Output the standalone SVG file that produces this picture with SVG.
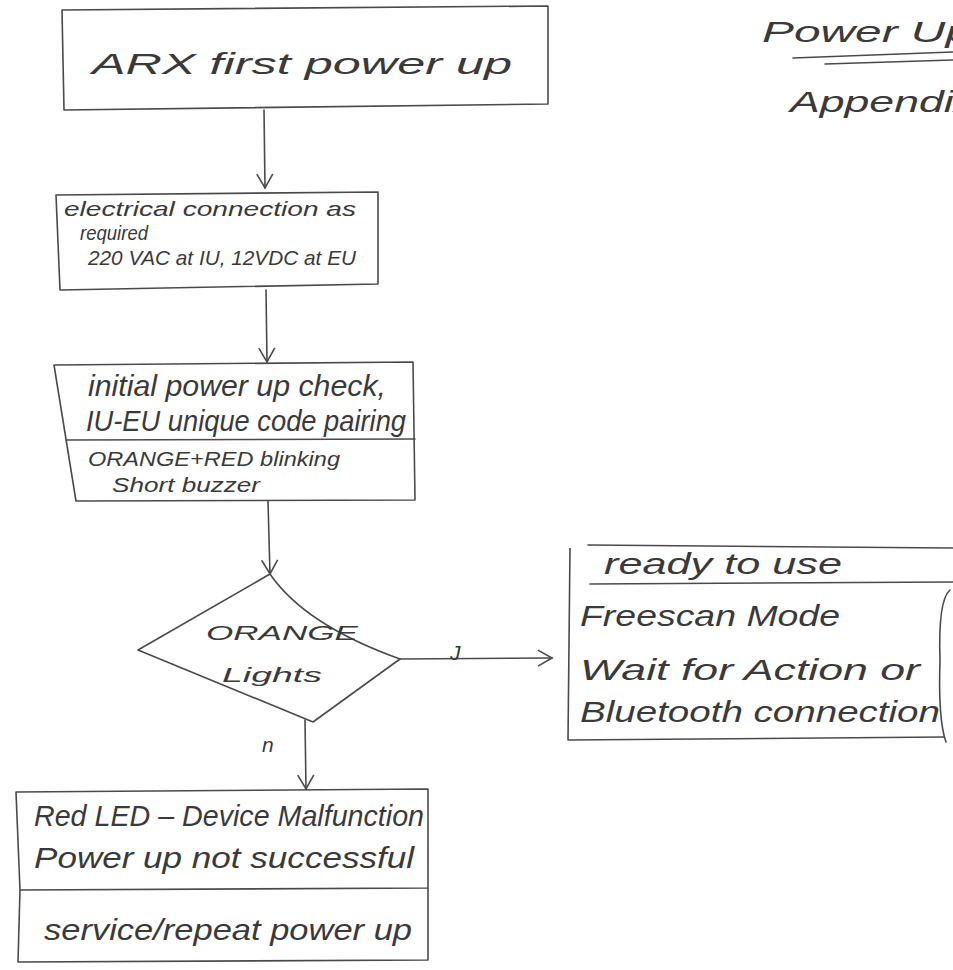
<svg xmlns="http://www.w3.org/2000/svg" width="953" height="970" viewBox="0 0 953 970">
<style>
.bx{fill:none;stroke:#4a4a4a;stroke-width:1.6;stroke-linejoin:round}
.ln{fill:none;stroke:#4a4a4a;stroke-width:1.6;stroke-linecap:round}
text{font-family:"Liberation Sans","DejaVu Sans",sans-serif;font-style:italic;fill:#3a3a3a}
.t{font-size:30px}
.s{font-size:21px}
</style>
<defs>
<marker id="ah" viewBox="0 0 20 20" refX="18" refY="10" markerWidth="20" markerHeight="20" markerUnits="userSpaceOnUse" orient="auto">
<path d="M4,2 L18,10 L4,18" fill="none" stroke="#4a4a4a" stroke-width="1.6"/>
</marker>
</defs>
<rect width="953" height="970" fill="#fff"/>
<g id="title">
<text x="762" y="42" class="t" font-size="34" textLength="210" lengthAdjust="spacingAndGlyphs">Power Up</text>
<path class="ln" d="M793,58 L953,52 M825,64 L953,60"/>
<text x="790" y="112" class="t" font-size="34" textLength="186" lengthAdjust="spacingAndGlyphs">Appendix</text>
</g>
<g id="n1">
<path class="bx" d="M62,10 L548,6 L548,104 L64,110 Z"/>
<text x="92" y="74" class="t" font-size="36" textLength="420" lengthAdjust="spacingAndGlyphs">ARX first power up</text>
</g>
<g id="n2">
<path class="bx" d="M56,195 L378,192 L378,284 L60,290 Z"/>
<text x="64" y="216" class="s" textLength="292" lengthAdjust="spacingAndGlyphs">electrical connection as</text>
<text x="80" y="240" class="s" textLength="68" lengthAdjust="spacingAndGlyphs">required</text>
<text x="88" y="265" class="s" textLength="268" lengthAdjust="spacingAndGlyphs">220 VAC at IU, 12VDC at EU</text>
</g>
<g id="n3">
<path class="bx" d="M54,365 L413,362 L415,500 L76,501 Z"/>
<path class="ln" d="M66,440 L415,439"/>
<text x="88" y="396" class="t" font-size="28" textLength="298" lengthAdjust="spacingAndGlyphs">initial power up check,</text>
<text x="86" y="431" class="t" font-size="28" textLength="320" lengthAdjust="spacingAndGlyphs">IU-EU unique code pairing</text>
<text x="88" y="466" class="s" font-size="20" textLength="252" lengthAdjust="spacingAndGlyphs">ORANGE+RED blinking</text>
<text x="112" y="492" class="s" font-size="20" textLength="148" lengthAdjust="spacingAndGlyphs">Short buzzer</text>
</g>
<g id="n4">
<path class="bx" d="M138,650 L270,574 Q305,625 400,659 L313,722 Z"/>
<text x="206" y="640" class="s" textLength="152" lengthAdjust="spacingAndGlyphs">ORANGE</text>
<text x="222" y="682" class="s" textLength="100" lengthAdjust="spacingAndGlyphs">Lights</text>
</g>
<g id="n5">
<path class="bx" d="M570,548 L568,740 L945,737"/>
<path class="ln" d="M588,545 L953,548"/>
<path class="ln" d="M590,584 L953,582"/>
<path class="ln" d="M950,590 Q938,600 940,660 Q938,720 946,742"/>
<text x="604" y="574" class="t" textLength="238" lengthAdjust="spacingAndGlyphs">ready to use</text>
<text x="580" y="626" class="t" textLength="260" lengthAdjust="spacingAndGlyphs">Freescan Mode</text>
<text x="580" y="680" class="t" textLength="340" lengthAdjust="spacingAndGlyphs">Wait for Action or</text>
<text x="580" y="722" class="t" textLength="360" lengthAdjust="spacingAndGlyphs">Bluetooth connection</text>
</g>
<g id="n6">
<path class="bx" d="M16,792 L428,789 L428,888 L20,890 Z"/>
<path class="bx" d="M20,890 L18,962 L428,960 L428,888"/>
<text x="34" y="826" class="t" textLength="390" lengthAdjust="spacingAndGlyphs">Red LED – Device Malfunction</text>
<text x="34" y="868" class="t" textLength="380" lengthAdjust="spacingAndGlyphs">Power up not successful</text>
<text x="44" y="940" class="t" textLength="368" lengthAdjust="spacingAndGlyphs">service/repeat power up</text>
</g>
<g id="connectors">
<path class="ln" d="M264,110 L265,188" marker-end="url(#ah)"/>
<path class="ln" d="M266,290 L267,362" marker-end="url(#ah)"/>
<path class="ln" d="M268,501 L270,574" marker-end="url(#ah)"/>
<path class="ln" d="M400,659 L552,658" marker-end="url(#ah)"/>
<path class="ln" d="M305,720 L306,789" marker-end="url(#ah)"/>
<text x="450" y="660" class="s" font-size="24">J</text>
<text x="262" y="752" class="s">n</text>
</g>
</svg>
